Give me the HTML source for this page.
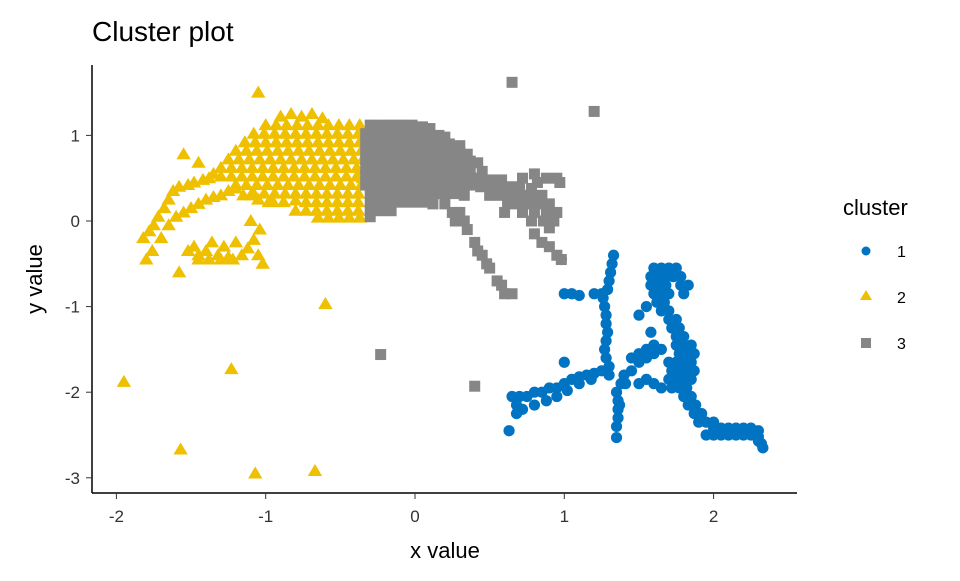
<!DOCTYPE html>
<html><head><meta charset="utf-8"><style>
body{margin:0;background:#fff}
svg text{font-family:"Liberation Sans",Arial,sans-serif}
</style></head><body>
<svg id="chart" width="960" height="576" xmlns="http://www.w3.org/2000/svg">
<text x="92" y="41" font-size="28" fill="#000">Cluster plot</text>
<g id="marks"></g>
<line x1="92" y1="65" x2="92" y2="493" stroke="#000" stroke-width="1.5"/>
<line x1="92" y1="493" x2="797" y2="493" stroke="#000" stroke-width="1.5"/>
<g id="axes"></g>
<text x="445" y="558" font-size="22" text-anchor="middle">x value</text>
<text transform="translate(42,279) rotate(-90)" font-size="22" text-anchor="middle">y value</text>
<g>
<text x="843" y="215" font-size="22">cluster</text>
<g><circle cx="866" cy="251" r="4.5" fill="#0073C2"/><text x="897" y="257" font-size="16">1</text></g>
<g><polygon points="866,290 872,300 860,300" fill="#EFC000"/><text x="897" y="303" font-size="16">2</text></g>
<g><rect x="861" y="338" width="10" height="10" fill="#868686"/><text x="897" y="349" font-size="16">3</text></g>
</g>
</svg>
<script>
const xTicks=[-2,-1,0,1,2];
const yTicks=[1,0,-1,-2,-3];
const cluster2=[
[-0.9,1.22],[-0.83,1.25],[-0.76,1.22],[-0.69,1.25],[-0.62,1.2],[-1.05,1.5],
[-1.0,1.12],[-0.93,1.12],[-0.86,1.12],[-0.79,1.12],[-0.72,1.12],[-0.65,1.12],[-0.58,1.12],[-0.51,1.12],[-0.44,1.12],[-0.37,1.12],
[-1.08,1.02],[-1.01,1.02],[-0.94,1.02],[-0.87,1.02],[-0.8,1.02],[-0.73,1.02],[-0.66,1.02],[-0.59,1.02],[-0.52,1.02],[-0.45,1.02],[-0.38,1.02],
[-1.14,0.92],[-1.07,0.92],[-1.0,0.92],[-0.93,0.92],[-0.86,0.92],[-0.79,0.92],[-0.72,0.92],[-0.65,0.92],[-0.58,0.92],[-0.51,0.92],[-0.44,0.92],[-0.37,0.92],
[-1.2,0.82],[-1.13,0.82],[-1.06,0.82],[-0.99,0.82],[-0.92,0.82],[-0.85,0.82],[-0.78,0.82],[-0.71,0.82],[-0.64,0.82],[-0.57,0.82],[-0.5,0.82],[-0.43,0.82],[-0.36,0.82],
[-1.25,0.72],[-1.18,0.72],[-1.11,0.72],[-1.04,0.72],[-0.97,0.72],[-0.9,0.72],[-0.83,0.72],[-0.76,0.72],[-0.69,0.72],[-0.62,0.72],[-0.55,0.72],[-0.48,0.72],[-0.41,0.72],[-0.35,0.72],
[-1.3,0.62],[-1.23,0.62],[-1.16,0.62],[-1.09,0.62],[-1.02,0.62],[-0.95,0.62],[-0.88,0.62],[-0.81,0.62],[-0.74,0.62],[-0.67,0.62],[-0.6,0.62],[-0.53,0.62],[-0.46,0.62],[-0.39,0.62],[-0.35,0.6],
[-1.3,0.52],[-1.23,0.52],[-1.16,0.52],[-1.09,0.52],[-1.02,0.52],[-0.95,0.52],[-0.88,0.52],[-0.81,0.52],[-0.74,0.52],[-0.67,0.52],[-0.6,0.52],[-0.53,0.52],[-0.46,0.52],[-0.39,0.52],[-0.35,0.5],
[-1.2,0.42],[-1.13,0.42],[-1.06,0.42],[-0.99,0.42],[-0.92,0.42],[-0.85,0.42],[-0.78,0.42],[-0.71,0.42],[-0.64,0.42],[-0.57,0.42],[-0.5,0.42],[-0.43,0.42],[-0.36,0.42],
[-1.08,0.32],[-1.01,0.32],[-0.94,0.32],[-0.87,0.32],[-0.8,0.32],[-0.73,0.32],[-0.66,0.32],[-0.59,0.32],[-0.52,0.32],[-0.45,0.32],[-0.38,0.32],
[-0.95,0.22],[-0.88,0.22],[-0.8,0.24],[-0.73,0.22],[-0.66,0.22],[-0.59,0.22],[-0.52,0.22],[-0.45,0.22],[-0.38,0.22],
[-0.8,0.12],[-0.73,0.12],[-0.66,0.12],[-0.59,0.12],[-0.52,0.12],[-0.45,0.12],[-0.38,0.12],
[-0.65,0.04],[-0.58,0.04],[-0.51,0.04],[-0.44,0.04],[-0.37,0.04],
[-1.82,-0.2],[-1.78,-0.12],[-1.75,-0.05],[-1.72,0.05],[-1.68,0.15],[-1.65,0.25],[-1.62,0.35],[-1.58,0.4],[-1.52,0.42],[-1.48,0.45],[-1.42,0.48],[-1.38,0.5],[-1.35,0.55],
[-1.8,-0.45],[-1.76,-0.35],[-1.7,-0.2],[-1.65,-0.05],[-1.6,0.05],[-1.55,0.1],[-1.5,0.15],[-1.45,0.2],[-1.4,0.25],[-1.35,0.28],[-1.3,0.3],[-1.25,0.35],[-1.2,0.38],[-1.15,0.3],[-1.1,0.3],[-1.05,0.25],[-0.98,0.22],
[-1.52,-0.35],[-1.48,-0.3],[-1.45,-0.4],[-1.4,-0.35],[-1.36,-0.25],[-1.32,-0.4],[-1.28,-0.3],[-1.25,-0.42],[-1.2,-0.25],[-1.16,-0.4],[-1.12,-0.32],[-1.08,-0.22],[-1.05,-0.4],[-1.02,-0.5],[-1.04,-0.1],[-1.1,0.0],[-1.45,-0.45],[-1.38,-0.45],[-1.3,-0.45],[-1.22,-0.45],
[-1.58,-0.6],[-1.95,-1.88],[-1.57,-2.67],[-1.23,-1.73],[-1.07,-2.95],[-0.67,-2.92],[-0.6,-0.97],[-1.45,0.68],[-1.55,0.78]
];
const cluster3=[
[-0.3,1.12],[-0.23,1.12],[-0.16,1.12],[-0.09,1.12],[-0.02,1.12],[0.05,1.1],[0.1,1.08],
[-0.33,1.02],[-0.26,1.02],[-0.19,1.02],[-0.12,1.02],[-0.05,1.02],[0.02,1.02],[0.09,1.02],[0.16,1.0],[0.2,0.98],
[-0.33,0.92],[-0.26,0.92],[-0.19,0.92],[-0.12,0.92],[-0.05,0.92],[0.02,0.92],[0.09,0.92],[0.16,0.92],[0.23,0.9],[0.3,0.88],
[-0.33,0.82],[-0.26,0.82],[-0.19,0.82],[-0.12,0.82],[-0.05,0.82],[0.02,0.82],[0.09,0.82],[0.16,0.82],[0.23,0.82],[0.3,0.8],[0.35,0.78],
[-0.33,0.72],[-0.26,0.72],[-0.19,0.72],[-0.12,0.72],[-0.05,0.72],[0.02,0.72],[0.09,0.72],[0.16,0.72],[0.23,0.72],[0.3,0.72],[0.37,0.7],[0.42,0.68],
[-0.33,0.62],[-0.26,0.62],[-0.19,0.62],[-0.12,0.62],[-0.05,0.62],[0.02,0.62],[0.09,0.62],[0.16,0.62],[0.23,0.62],[0.3,0.62],[0.37,0.6],[0.45,0.58],
[-0.33,0.52],[-0.26,0.52],[-0.19,0.52],[-0.12,0.52],[-0.05,0.52],[0.02,0.52],[0.09,0.52],[0.16,0.52],[0.23,0.52],[0.3,0.52],[0.37,0.5],[0.44,0.5],[0.51,0.48],[0.58,0.48],
[-0.33,0.42],[-0.26,0.42],[-0.19,0.42],[-0.12,0.42],[-0.05,0.42],[0.02,0.42],[0.09,0.42],[0.16,0.42],[0.23,0.42],[0.3,0.42],[0.37,0.42],[0.44,0.4],[0.51,0.4],[0.58,0.4],[0.65,0.4],[0.7,0.38],
[-0.3,0.32],[-0.23,0.32],[-0.16,0.32],[-0.09,0.32],[-0.02,0.32],[0.05,0.32],[0.12,0.32],[0.19,0.32],[0.26,0.32],[0.33,0.3],[0.5,0.3],[0.57,0.3],[0.64,0.3],[0.71,0.3],[0.78,0.3],[0.85,0.3],
[-0.3,0.22],[-0.23,0.22],[-0.16,0.22],[-0.09,0.22],[-0.02,0.22],[0.05,0.22],[0.12,0.2],[0.2,0.2],[0.62,0.2],[0.69,0.2],[0.76,0.2],[0.83,0.2],[0.9,0.2],
[-0.3,0.12],[-0.23,0.12],[-0.16,0.12],[0.25,0.1],[0.3,0.1],[0.6,0.1],[0.72,0.1],[0.8,0.1],[0.88,0.1],[0.95,0.1],
[-0.3,0.05],[0.27,0.0],[0.33,0.0],[0.78,0.0],[0.86,0.0],[0.93,0.0],[0.9,-0.08],
[0.72,0.5],[0.8,0.55],[0.88,0.5],[0.95,0.5],[0.97,0.45],[0.82,0.45],[0.78,0.38],
[0.35,-0.1],[0.4,-0.25],[0.45,-0.4],[0.5,-0.55],[0.55,-0.7],[0.6,-0.85],[0.65,-0.85],[0.58,-0.75],[0.48,-0.5],[0.42,-0.35],
[0.8,-0.15],[0.85,-0.25],[0.9,-0.3],[0.95,-0.4],[0.98,-0.45],
[0.65,1.62],[1.2,1.28],[-0.23,-1.56],[0.4,-1.93]
];
const cluster1=[
[0.63,-2.45],[0.65,-2.05],[0.7,-2.05],[0.75,-2.05],[0.8,-2.0],[0.85,-2.0],[0.9,-1.95],[0.95,-1.95],[1.0,-1.9],[1.05,-1.85],[1.1,-1.82],[1.15,-1.8],[1.2,-1.78],[1.25,-1.75],
[0.68,-2.15],[0.72,-2.2],[0.8,-2.15],[0.88,-2.1],[0.95,-2.05],[1.02,-1.98],[1.1,-1.9],[1.18,-1.85],[0.68,-2.25],[1.0,-1.65],
[1.26,-0.9],[1.27,-1.0],[1.28,-1.1],[1.28,-1.2],[1.29,-1.3],[1.28,-1.4],[1.27,-1.5],[1.28,-1.6],[1.3,-1.7],[1.3,-1.8],[1.3,-0.7],[1.31,-0.6],[1.32,-0.5],[1.33,-0.4],[1.29,-0.8],
[1.35,-2.0],[1.36,-2.1],[1.36,-2.2],[1.36,-2.3],[1.35,-2.4],[1.35,-2.53],[1.38,-1.9],[1.37,-2.15],
[1.4,-1.8],[1.45,-1.75],[1.5,-1.65],[1.55,-1.6],[1.6,-1.55],[1.65,-1.5],[1.45,-1.6],[1.5,-1.55],[1.55,-1.5],[1.6,-1.45],[1.41,-1.9],[1.5,-1.9],[1.55,-1.85],[1.6,-1.9],[1.65,-1.95],
[1.0,-0.85],[1.05,-0.85],[1.1,-0.87],[1.2,-0.85],[1.25,-0.85],[0.98,-0.45],
[1.6,-0.55],[1.65,-0.55],[1.7,-0.55],[1.75,-0.55],
[1.58,-0.65],[1.63,-0.65],[1.68,-0.65],[1.73,-0.65],[1.78,-0.65],
[1.58,-0.75],[1.63,-0.75],[1.68,-0.75],[1.78,-0.75],[1.83,-0.75],
[1.6,-0.85],[1.65,-0.85],[1.7,-0.85],[1.8,-0.85],
[1.62,-0.95],[1.67,-0.95],[1.65,-1.05],[1.7,-1.05],[1.7,-1.15],[1.75,-1.15],[1.72,-1.25],[1.77,-1.25],[1.75,-1.35],[1.8,-1.35],
[1.75,-1.45],[1.8,-1.45],[1.85,-1.45],[1.77,-1.55],[1.82,-1.55],[1.87,-1.55],
[1.7,-1.65],[1.75,-1.65],[1.8,-1.65],[1.85,-1.65],[1.72,-1.75],[1.77,-1.75],[1.82,-1.75],[1.87,-1.75],
[1.7,-1.85],[1.75,-1.85],[1.8,-1.85],[1.85,-1.85],[1.72,-1.95],[1.77,-1.95],[1.82,-1.95],
[1.8,-2.05],[1.85,-2.05],[1.83,-2.15],[1.88,-2.15],[1.87,-2.25],[1.92,-2.25],[1.9,-2.35],[1.95,-2.35],[2.0,-2.35],
[2.0,-2.42],[2.05,-2.42],[2.1,-2.42],[2.15,-2.42],[2.2,-2.42],[2.25,-2.42],[2.3,-2.45],
[1.95,-2.5],[2.0,-2.5],[2.05,-2.5],[2.1,-2.5],[2.15,-2.5],[2.2,-2.5],[2.25,-2.5],[2.3,-2.52],
[2.32,-2.6],[2.33,-2.65],[2.3,-2.57],[1.55,-1.0],[1.5,-1.1],[1.58,-1.3]
];
const NS='http://www.w3.org/2000/svg';
function sx(v){return 415+v*149.3;}
function sy(v){return 221-v*85.6;}
const marks=document.getElementById('marks');
const axes=document.getElementById('axes');
xTicks.forEach(t=>{
  const l=document.createElementNS(NS,'line');
  l.setAttribute('x1',sx(t));l.setAttribute('x2',sx(t));l.setAttribute('y1',493);l.setAttribute('y2',499);l.setAttribute('stroke','#333');
  
  
  axes.appendChild(l);
  const tx=document.createElementNS(NS,'text');
  tx.setAttribute('x',sx(t));tx.setAttribute('y',522);tx.setAttribute('text-anchor','middle');tx.setAttribute('font-size','17');tx.setAttribute('fill','#333');
  tx.textContent=t;
  
  
  axes.appendChild(tx);
});
yTicks.forEach(t=>{
  const l=document.createElementNS(NS,'line');
  l.setAttribute('x1',86);l.setAttribute('x2',92);l.setAttribute('y1',sy(t));l.setAttribute('y2',sy(t));l.setAttribute('stroke','#333');
  
  
  axes.appendChild(l);
  const tx=document.createElementNS(NS,'text');
  tx.setAttribute('x',80);tx.setAttribute('y',sy(t)+6);tx.setAttribute('text-anchor','end');tx.setAttribute('font-size','17');tx.setAttribute('fill','#333');
  tx.textContent=t;
  
  
  axes.appendChild(tx);
});
cluster1.forEach(p=>{
  const c=document.createElementNS(NS,'circle');
  c.setAttribute('cx',sx(p[0]));c.setAttribute('cy',sy(p[1]));c.setAttribute('r',5.6);c.setAttribute('fill','#0073C2');
  
  
  marks.appendChild(c);
});
cluster2.forEach(p=>{
  const x=sx(p[0]),y=sy(p[1]);
  const c=document.createElementNS(NS,'polygon');
  c.setAttribute('points',`${x},${y-7} ${x+7.2},${y+5} ${x-7.2},${y+5}`);c.setAttribute('fill','#EFC000');
  
  
  marks.appendChild(c);
});
cluster3.forEach(p=>{
  const c=document.createElementNS(NS,'rect');
  c.setAttribute('x',sx(p[0])-5.5);c.setAttribute('y',sy(p[1])-5.5);c.setAttribute('width',11);c.setAttribute('height',11);c.setAttribute('fill','#868686');
  
  
  marks.appendChild(c);
});
</script>
</body></html>
